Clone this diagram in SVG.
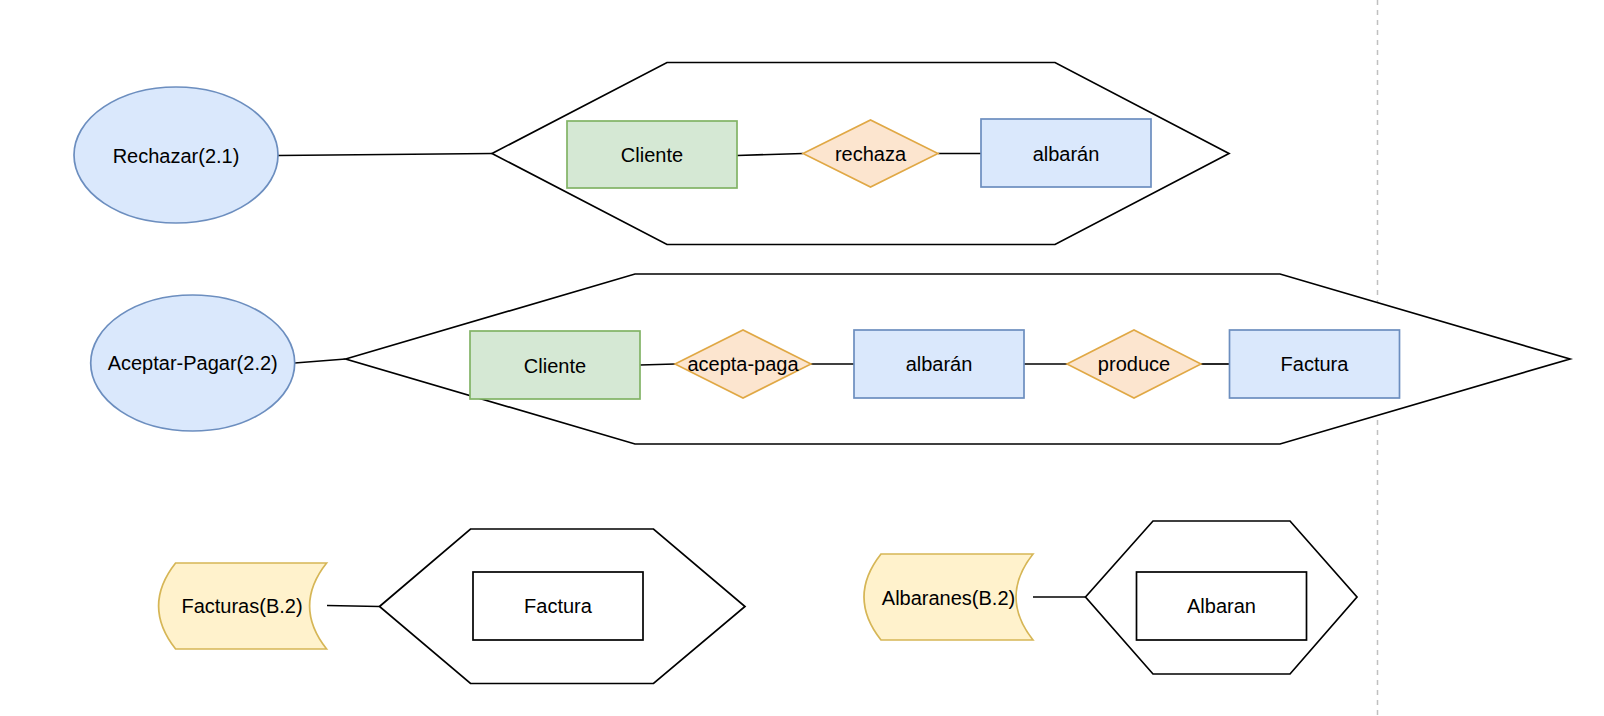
<svg xmlns="http://www.w3.org/2000/svg" width="1604" height="716" viewBox="0 0 1604 716">
<style>
  text { font-family: "Liberation Sans", Arial, Helvetica, sans-serif; font-size: 20px; fill: #000; text-anchor: middle; dominant-baseline: central; }
  .blue { fill: #dae8fc; stroke: #6c8ebf; stroke-width: 1.7; }
  .green { fill: #d5e8d4; stroke: #82b366; stroke-width: 1.7; }
  .orange { fill: #fce5cf; stroke: #e0a845; stroke-width: 1.6; }
  .yellow { fill: #fff2cc; stroke: #d6b656; stroke-width: 1.7; }
  .hex { fill: #ffffff; stroke: #000; stroke-width: 1.7; }
  .plain { fill: #ffffff; stroke: #000; stroke-width: 1.7; }
  .edge { fill: none; stroke: #000; stroke-width: 1.7; }
  .guide { fill: none; stroke: #c0c0c0; stroke-width: 1.5; stroke-dasharray: 5 5; }
</style>
<rect x="0" y="0" width="1604" height="716" fill="#ffffff"/>
<line class="guide" x1="1377.5" y1="0" x2="1377.5" y2="716"/>

<g id="hex1"><polygon class="hex" points="492,153.5 667,62.5 1055,62.5 1229,153.5 1055,244.5 667,244.5"/></g>
<g id="hex2"><polygon class="hex" points="345.6,359 635,274 1280,274 1570,359 1280,444 635,444"/></g>
<g id="hex3"><polygon class="hex" points="379.5,606.5 470.5,529 653.5,529 745,606.5 653.5,683.5 470.5,683.5"/></g>
<g id="hex4"><polygon class="hex" points="1085.5,597 1153,521 1290,521 1357,597 1290,674 1153,674"/></g>

<g id="connectors">
  <line class="edge" x1="278" y1="155.5" x2="492" y2="153.5"/>
  <line class="edge" x1="737" y1="155.5" x2="803" y2="153.5"/>
  <line class="edge" x1="938" y1="153.5" x2="981" y2="153.5"/>
  <line class="edge" x1="294.7" y1="363" x2="345.6" y2="359"/>
  <line class="edge" x1="640" y1="365" x2="675" y2="364"/>
  <line class="edge" x1="811" y1="364" x2="854" y2="364"/>
  <line class="edge" x1="1024" y1="364" x2="1067" y2="364"/>
  <line class="edge" x1="1201" y1="364" x2="1229.5" y2="364"/>
  <line class="edge" x1="327" y1="605.5" x2="379.5" y2="606.5"/>
  <line class="edge" x1="1033" y1="597" x2="1085.5" y2="597"/>
</g>

<g id="rechazar"><ellipse class="blue" cx="176" cy="155" rx="102" ry="68"/><text x="176" y="156">Rechazar(2.1)</text></g>
<g id="cliente1"><rect class="green" x="567" y="121" width="170" height="67"/><text x="652" y="155">Cliente</text></g>
<g id="rechaza"><polygon class="orange" points="803,153.5 870.5,120 938,153.5 870.5,187"/><text x="870.5" y="154">rechaza</text></g>
<g id="albaran1"><rect class="blue" x="981" y="119" width="170" height="68"/><text x="1066" y="153.5">albarán</text></g>

<g id="aceptar"><ellipse class="blue" cx="192.7" cy="363" rx="102" ry="68"/><text x="192.7" y="363">Aceptar-Pagar(2.2)</text></g>
<g id="cliente2"><rect class="green" x="470" y="331" width="170" height="68"/><text x="555" y="366">Cliente</text></g>
<g id="acepta-paga"><polygon class="orange" points="675,364 743,330 811,364 743,398"/><text x="743" y="364">acepta-paga</text></g>
<g id="albaran2"><rect class="blue" x="854" y="330" width="170" height="68"/><text x="939" y="364">albarán</text></g>
<g id="produce"><polygon class="orange" points="1067,364 1134,330 1201,364 1134,398"/><text x="1134" y="364">produce</text></g>
<g id="factura2"><rect class="blue" x="1229.5" y="330" width="170" height="68"/><text x="1314.5" y="364">Factura</text></g>

<g id="facturas"><path class="yellow" d="M175.6,563 L326.6,563 Q292.6,606 326.6,649 L175.6,649 Q141.6,606 175.6,563 Z"/><text x="242" y="606">Facturas(B.2)</text></g>
<g id="factura3"><rect class="plain" x="473" y="572" width="170" height="68"/><text x="558" y="606">Factura</text></g>

<g id="albaranes"><path class="yellow" d="M881,554 L1033,554 Q999,597 1033,640 L881,640 Q847,597 881,554 Z"/><text x="948.5" y="598">Albaranes(B.2)</text></g>
<g id="albaran3"><rect class="plain" x="1136.5" y="572" width="170" height="68"/><text x="1221.5" y="606">Albaran</text></g>
</svg>
